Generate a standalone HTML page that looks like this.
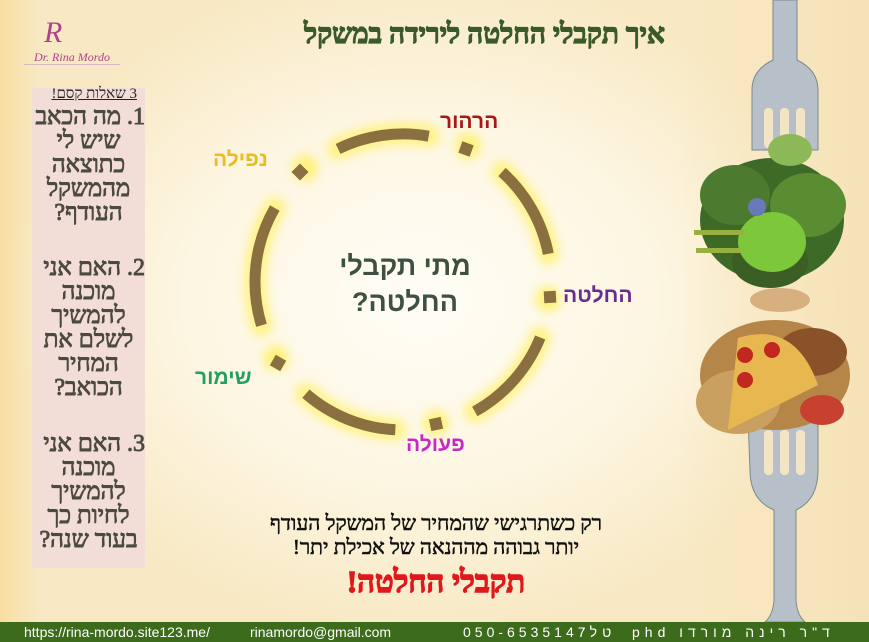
<!DOCTYPE html>
<html><head><meta charset="utf-8"><style>
html,body{margin:0;padding:0}
body{width:869px;height:642px;overflow:hidden;position:relative;font-family:"Liberation Serif","DejaVu Serif",serif;
background:radial-gradient(ellipse 420px 330px at 420px 300px,#fffdf6 0%,#fdf6e2 55%,#f8e9c4 100%);}
.abs{position:absolute}
.t{position:absolute;direction:rtl;white-space:nowrap}
</style></head><body>
<div class="abs" style="left:0;top:0;width:40px;height:622px;background:linear-gradient(90deg,rgba(247,215,140,.6),rgba(247,215,140,0))"></div>
<div class="abs" style="left:680px;top:0;width:189px;height:622px;background:linear-gradient(90deg,rgba(252,240,210,0),#f6e2b8)"></div>

<div class="abs" style="left:44px;top:18px;width:30px;height:30px;color:#b0408a;font-size:30px;line-height:30px;font-style:italic">R</div>
<div class="abs" style="left:22px;top:50px;width:100px;text-align:center;color:#b0408a;font-size:12px;font-style:italic">Dr. Rina Mordo</div>
<div class="abs" style="left:24px;top:64px;width:96px;height:1px;background:#d8b8c8"></div>

<div class="t" style="right:204px;top:19px;font-size:28px;font-weight:bold;color:#3b5a2c;-webkit-text-stroke:1.2px #3b5a2c">איך תקבלי החלטה לירידה במשקל</div>

<div class="abs" style="left:32px;top:88px;width:113px;height:480px;background:#f2ddd7"></div>
<div class="t" style="left:32px;width:105px;top:86px;text-align:right;font-size:15px;color:#222;text-decoration:underline">3 שאלות קסם!</div>
<div class="t" style="left:30px;width:117px;top:105px;text-align:center;font-size:24px;line-height:24px;color:#4a4a40;white-space:normal;-webkit-text-stroke:0.9px #4a4a40">
<div style="text-align:right;padding-right:2px">1. מה הכאב</div>שיש לי<br>כתוצאה<br>מהמשקל<br>העודף?<br><br>
<div style="text-align:right;padding-right:2px;margin-top:7px">2. האם אני</div>מוכנה<br>להמשיך<br>לשלם את<br>המחיר<br>הכואב?<br><br>
<div style="text-align:right;padding-right:2px;margin-top:8px">3. האם אני</div>מוכנה<br>להמשיך<br>לחיות כך<br>בעוד שנה?</div>

<svg class="abs" style="left:0;top:0" width="869" height="642">
<defs>
<filter id="g" x="-30%" y="-30%" width="160%" height="160%"><feGaussianBlur stdDeviation="5"/></filter>
</defs>
<g fill="none" stroke="#fff27a" stroke-width="22" stroke-linecap="round" filter="url(#g)" opacity=".9">
<path d="M338.1 148.9 A148 148 0 0 1 428.7 136.2"/>
<path d="M502 172 A148 148 0 0 1 548.3 253.8"/>
<path d="M540.2 337.5 A148 148 0 0 1 474.8 411.5"/>
<path d="M395.3 429.8 A148 148 0 0 1 305.9 393.7"/>
<path d="M261.5 325.3 A148 148 0 0 1 274.8 208"/>
</g>
<g fill="#fff27a" filter="url(#g)">
<circle cx="468" cy="146" r="13"/><circle cx="548" cy="299" r="13"/><circle cx="436" cy="423" r="13"/><circle cx="276" cy="358" r="13"/><circle cx="305" cy="168" r="13"/>
</g>
<g fill="none" stroke="#8a7040" stroke-width="11">
<path d="M338.1 148.9 A148 148 0 0 1 428.7 136.2"/>
<path d="M502 172 A148 148 0 0 1 548.3 253.8"/>
<path d="M540.2 337.5 A148 148 0 0 1 474.8 411.5"/>
<path d="M395.3 429.8 A148 148 0 0 1 305.9 393.7"/>
<path d="M261.5 325.3 A148 148 0 0 1 274.8 208"/>
</g>
<g fill="#8a7040">
<rect x="-6" y="-6" width="12" height="12" transform="translate(466,149) rotate(20)"/>
<rect x="-6" y="-6" width="12" height="12" transform="translate(550,297) rotate(-3)"/>
<rect x="-6" y="-6" width="12" height="12" transform="translate(436,424) rotate(-12)"/>
<rect x="-6" y="-6" width="12" height="12" transform="translate(278,363) rotate(30)"/>
<rect x="-6" y="-6" width="12" height="12" transform="translate(300,172) rotate(45)"/>
</g>

<g fill="#b7c0c8" stroke="#7d8790" stroke-width="1">
<path d="M773 0 L797 0 L797 60 Q818 70 818 90 L818 150 L752 150 L752 90 Q752 70 773 60 Z"/>
<path d="M748 418 L818 418 L818 470 Q818 500 796 510 L796 600 Q797 615 805 622 L765 622 Q773 615 774 600 L774 510 Q750 500 750 470 Z"/>
</g>
<g fill="#f2e4c6">
<rect x="764" y="108" width="9" height="40" rx="4"/><rect x="780" y="108" width="9" height="40" rx="4"/><rect x="796" y="108" width="9" height="40" rx="4"/>
<rect x="764" y="430" width="9" height="45" rx="4"/><rect x="780" y="430" width="9" height="45" rx="4"/><rect x="796" y="430" width="9" height="45" rx="4"/>
</g>
<g>
<ellipse cx="772" cy="220" rx="72" ry="62" fill="#3e6a28"/>
<ellipse cx="735" cy="195" rx="35" ry="30" fill="#4c7a2e"/>
<ellipse cx="808" cy="205" rx="38" ry="32" fill="#5a8c32"/>
<ellipse cx="770" cy="262" rx="38" ry="26" fill="#3a5e24"/>
<ellipse cx="772" cy="242" rx="34" ry="30" fill="#7cc83a"/>
<ellipse cx="790" cy="150" rx="22" ry="16" fill="#8cb858"/>
<circle cx="757" cy="207" r="9" fill="#6878b8"/>
<rect x="694" y="230" width="50" height="5" fill="#98b040"/><rect x="696" y="248" width="45" height="5" fill="#98b040"/>
</g>
<g>
<ellipse cx="775" cy="375" rx="75" ry="55" fill="#b58648"/>
<ellipse cx="812" cy="352" rx="35" ry="24" fill="#8a5228"/>
<ellipse cx="738" cy="402" rx="42" ry="32" fill="#c9a060"/>
<path d="M728 430 L738 338 Q795 320 818 385 Z" fill="#e8b850"/>
<circle cx="745" cy="355" r="8" fill="#c02820"/><circle cx="772" cy="350" r="8" fill="#c02820"/><circle cx="745" cy="380" r="8" fill="#c02820"/>
<ellipse cx="822" cy="410" rx="22" ry="15" fill="#c84030"/>
<ellipse cx="780" cy="300" rx="30" ry="12" fill="#d8b080"/>
</g>
</svg>

<div class="t" style="left:440px;top:110px;font-size:21px;font-weight:bold;color:#a81818;font-family:'Liberation Sans',sans-serif">הרהור</div>
<div class="t" style="left:213px;top:148px;font-size:21px;font-weight:bold;color:#ebbb22;font-family:'Liberation Sans',sans-serif">נפילה</div>
<div class="t" style="left:563px;top:284px;font-size:21px;font-weight:bold;color:#6a2c8e;font-family:'Liberation Sans',sans-serif">החלטה</div>
<div class="t" style="left:406px;top:433px;font-size:21px;font-weight:bold;color:#c828c8;font-family:'Liberation Sans',sans-serif">פעולה</div>
<div class="t" style="left:195px;top:366px;font-size:21px;font-weight:bold;color:#20a060;font-family:'Liberation Sans',sans-serif">שימור</div>
<div class="t" style="left:300px;width:210px;top:248px;text-align:center;font-size:27px;line-height:36px;font-weight:bold;color:#3e503f;font-family:'Liberation Sans',sans-serif">מתי תקבלי<br>החלטה?</div>

<div class="t" style="left:200px;width:472px;top:511px;text-align:center;font-size:21px;line-height:24px;color:#111;-webkit-text-stroke:0.6px #111">רק כשתרגישי שהמחיר של המשקל העודף<br>יותר גבוהה מההנאה של אכילת יתר!</div>
<div class="t" style="left:200px;width:472px;top:564px;text-align:center;font-size:31px;font-weight:bold;color:#e0181c;-webkit-text-stroke:1.4px #e0181c">תקבלי החלטה!</div>

<div class="abs" style="left:0;top:622px;width:869px;height:20px;background:#3c6b1c;color:#fff;font-family:'Liberation Sans',sans-serif;font-size:14px;line-height:20px;white-space:nowrap">
<span style="position:absolute;left:24px">https://rina-mordo.site123.me/</span>
<span style="position:absolute;left:250px">rinamordo@gmail.com</span>
<span style="position:absolute;left:463px;letter-spacing:4px">050-6535147</span>
<span style="position:absolute;left:582px;direction:rtl;letter-spacing:5px">טל'</span>
<span style="position:absolute;left:632px;direction:rtl;letter-spacing:5px">ד"ר רינה מורדו phd</span>
</div>
</body></html>
